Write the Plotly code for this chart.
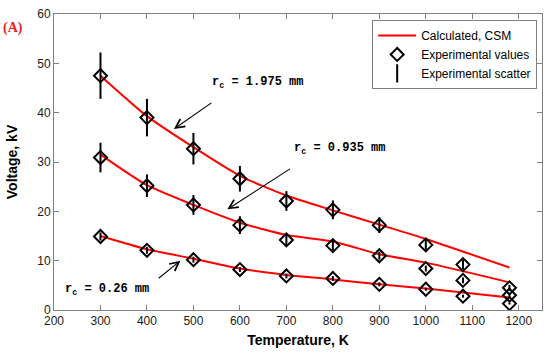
import plotly.graph_objects as go

# --- data ---
temps = [300, 400, 500, 600, 700, 800, 900, 1000, 1080, 1180]
exp_1975 = [47.5, 39.0, 32.7, 26.6, 22.1, 20.3, 17.2, 13.2, 9.2, 4.5]
exp_0935 = [30.9, 25.2, 21.3, 17.2, 14.2, 13.05, 11.0, 8.4, 6.0, 3.0]
exp_026 = [14.9, 12.1, 10.2, 8.2, 6.9, 6.4, 5.2, 4.2, 2.8, 1.3]
err_1975 = [4.7, 3.8, 3.2, 2.6, 2.0, 1.9, 1.6, 1.0, 1.0, 0.6]
err_0935 = [3.0, 2.3, 2.0, 1.8, 1.2, 1.0, 0.8, 0.6, 0.6, 0.4]
err_026 = [0.8, 0.7, 0.6, 0.5, 0.5, 0.5, 0.4, 0.3, 0.3, 0.2]

calc_temps = [300, 400, 500, 600, 700, 800, 900, 1000, 1180]
calc_1975 = [47.5, 39.3, 33.0, 27.2, 23.2, 20.2, 17.3, 14.4, 8.6]
calc_0935 = [31.5, 25.3, 21.3, 17.7, 15.2, 13.9, 11.3, 9.6, 5.6]
calc_026 = [15.0, 12.3, 10.4, 8.4, 7.1, 6.2, 5.2, 4.35, 2.55]

x_ticks = [200, 300, 400, 500, 600, 700, 800, 900, 1000, 1100, 1200]
y_ticks = [0, 10, 20, 30, 40, 50, 60]

fig = go.Figure()

calcs = [calc_1975, calc_0935, calc_026]
exps = [exp_1975, exp_0935, exp_026]
errs = [err_1975, err_0935, err_026]

for i, c in enumerate(calcs):
    fig.add_trace(go.Scatter(
        x=calc_temps, y=c, mode="lines",
        line=dict(color="#ff0000", width=2, shape="spline", smoothing=0.6),
        name="Calculated, CSM", legendgroup="calc", showlegend=(i == 0)))

for i, (e, er) in enumerate(zip(exps, errs)):
    fig.add_trace(go.Scatter(
        x=temps, y=e, mode="markers",
        marker=dict(symbol="line-ns-open", size=0.1, color="black",
                    line=dict(color="black", width=2)),
        error_y=dict(type="data", array=er, symmetric=True, color="black",
                     thickness=2, width=0),
        name="Experimental scatter", legendgroup="scatter", showlegend=False))

for i, e in enumerate(exps):
    fig.add_trace(go.Scatter(
        x=temps, y=e, mode="markers",
        marker=dict(symbol="diamond-open", size=10, color="black",
                    line=dict(color="black", width=2)),
        name="Experimental values", legendgroup="exp", showlegend=(i == 0)))

# legend-only entry for scatter
fig.add_trace(go.Scatter(
    x=[None], y=[None], mode="markers",
    marker=dict(symbol="line-ns-open", size=13, color="black",
                line=dict(color="black", width=2)),
    name="Experimental scatter", showlegend=True))

mono = dict(family="Liberation Mono, Courier New, monospace", size=12, color="black")

# labels
labels = [
    ("<b>r<sub>c</sub> = 1.975 mm</b>", 638, 46.0),
    ("<b>r<sub>c</sub> = 0.935 mm</b>", 815, 32.7),
    ("<b>r<sub>c</sub> = 0.26 mm</b>", 314, 4.0),
]
for t, x, y in labels:
    fig.add_annotation(x=x, y=y, xref="x", yref="y", text=t, showarrow=False,
                       font=mono, xanchor="center", yanchor="middle")

# arrows (tail -> tip)
arrows = [
    (542, 42.2, 458, 36.7),
    (711, 28.8, 573, 20.4),
    (422, 6.2, 472, 10.0),
]
for ax, ay, x, y in arrows:
    fig.add_annotation(x=x, y=y, ax=ax, ay=ay, xref="x", yref="y",
                       axref="x", ayref="y", text="", showarrow=True,
                       arrowhead=5, arrowsize=1.6, arrowwidth=1.1,
                       arrowcolor="black", standoff=0, startstandoff=0)

fig.add_annotation(x=-0.083, y=0.953, xref="paper", yref="paper",
                   text="<b>(A)</b>", showarrow=False,
                   xanchor="center", yanchor="middle",
                   font=dict(family="Liberation Serif, Times New Roman, serif",
                             size=14, color="#ee1c25"))

axis_common = dict(showline=True, linecolor="#808080", linewidth=1,
                   mirror="ticks", ticks="inside", ticklen=5,
                   tickcolor="#808080", showgrid=False, zeroline=False,
                   tickfont=dict(family="Liberation Sans, Arial", size=12,
                                 color="#1a1a1a"))

fig.update_xaxes(range=[200, 1250], tickvals=x_ticks,
                 title=dict(text="<b>Temperature, K</b>", standoff=7,
                            font=dict(family="Liberation Sans, Arial", size=14,
                                      color="black")),
                 **axis_common)
fig.update_yaxes(range=[0, 60], tickvals=y_ticks,
                 title=dict(text="<b>Voltage, kV</b>", standoff=16,
                            font=dict(family="Liberation Sans, Arial", size=14,
                                      color="black")),
                 **axis_common)

fig.update_layout(
    width=550, height=354,
    margin=dict(l=54, r=7, t=11, b=44),
    plot_bgcolor="white", paper_bgcolor="white",
    showlegend=True,
    legend=dict(x=0.652, y=0.98, xanchor="left", yanchor="top",
                bgcolor="white", bordercolor="#808080", borderwidth=1,
                font=dict(family="Liberation Sans, Arial", size=12,
                          color="black"),
                tracegroupgap=0, itemwidth=38),
)

# remove the default 8px page margin so the figure fills the window exactly
fig.write_html("out.html",
               config={"displayModeBar": False},
               post_script="document.body.style.margin='0px';")
